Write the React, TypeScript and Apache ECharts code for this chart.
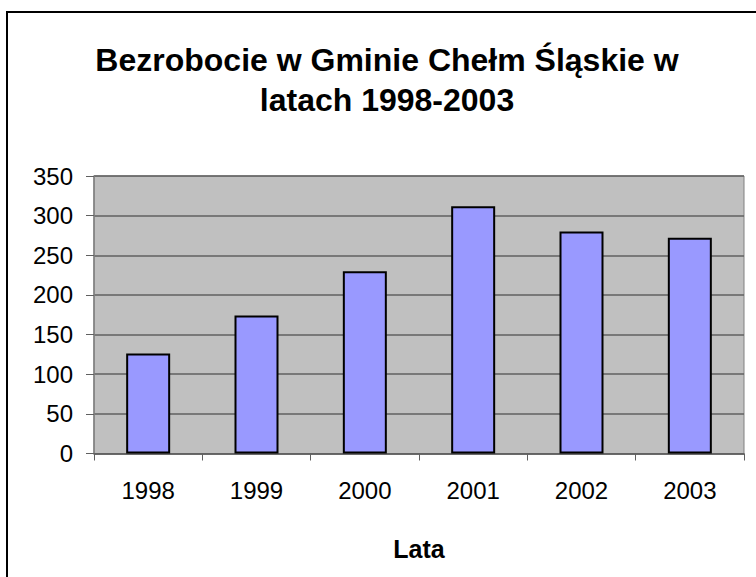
import React, { useEffect, useRef } from "react";
import * as echarts from "echarts";

const categories = ["1998", "1999", "2000", "2001", "2002", "2003"];
const values = [126, 174, 230, 312, 280, 272];
const titleText = "Bezrobocie w Gminie Chełm Śląskie w\nlatach 1998-2003";
const xAxisName = "Lata";

const FONT = "'Liberation Sans', Arial, sans-serif";

export default function App() {
  const ref = useRef<HTMLDivElement>(null);
  useEffect(() => {
    if (!ref.current) return;
    const chart = echarts.init(ref.current, null, { renderer: "svg" });
    chart.setOption({
      animation: false,
      backgroundColor: "#ffffff",
      title: {
        text: titleText,
        left: 382,
        top: 35,
        textAlign: "center",
        textStyle: {
          fontFamily: FONT,
          fontSize: 32,
          fontWeight: "bold",
          color: "#000",
          lineHeight: 40,
        },
      },
      graphic: [
        {
          type: "rect",
          shape: { x: 7, y: 12, width: 800, height: 700 },
          style: { fill: "none", stroke: "#000", lineWidth: 2 },
          silent: true,
        },
      ],
      grid: {
        left: 94,
        right: 12,
        top: 176,
        bottom: 123.5,
        show: true,
        backgroundColor: "#C0C0C0",
        borderColor: "#808080",
        borderWidth: 1,
      },
      xAxis: {
        type: "category",
        data: categories,
        name: xAxisName,
        nameLocation: "middle",
        nameGap: 83,
        nameTextStyle: {
          fontFamily: FONT,
          fontSize: 25,
          fontWeight: "bold",
          color: "#000",
        },
        axisLine: { show: true, lineStyle: { color: "#606060", width: 1.5 } },
        axisTick: { show: true, alignWithLabel: false, length: 7, lineStyle: { color: "#606060" } },
        axisLabel: {
          fontFamily: FONT,
          fontSize: 24,
          color: "#000",
          margin: 25,
        },
      },
      yAxis: {
        type: "value",
        min: 0,
        max: 350,
        interval: 50,
        axisLine: { show: true, lineStyle: { color: "#808080", width: 1.5 } },
        axisTick: { show: true, inside: false, length: 8, lineStyle: { color: "#606060" } },
        axisLabel: {
          fontFamily: FONT,
          fontSize: 24,
          color: "#000",
          margin: 21,
        },
        splitLine: { show: true, lineStyle: { color: "#606060", width: 1.5 } },
      },
      series: [
        {
          type: "bar",
          data: values,
          barWidth: 44,
          itemStyle: { color: "#9999FF", borderColor: "#000", borderWidth: 2 },
        },
      ],
    });
    return () => chart.dispose();
  }, []);
  return (
    <div
      ref={ref}
      style={{ position: "fixed", left: 0, top: 0, width: 756, height: 577 }}
    />
  );
}
